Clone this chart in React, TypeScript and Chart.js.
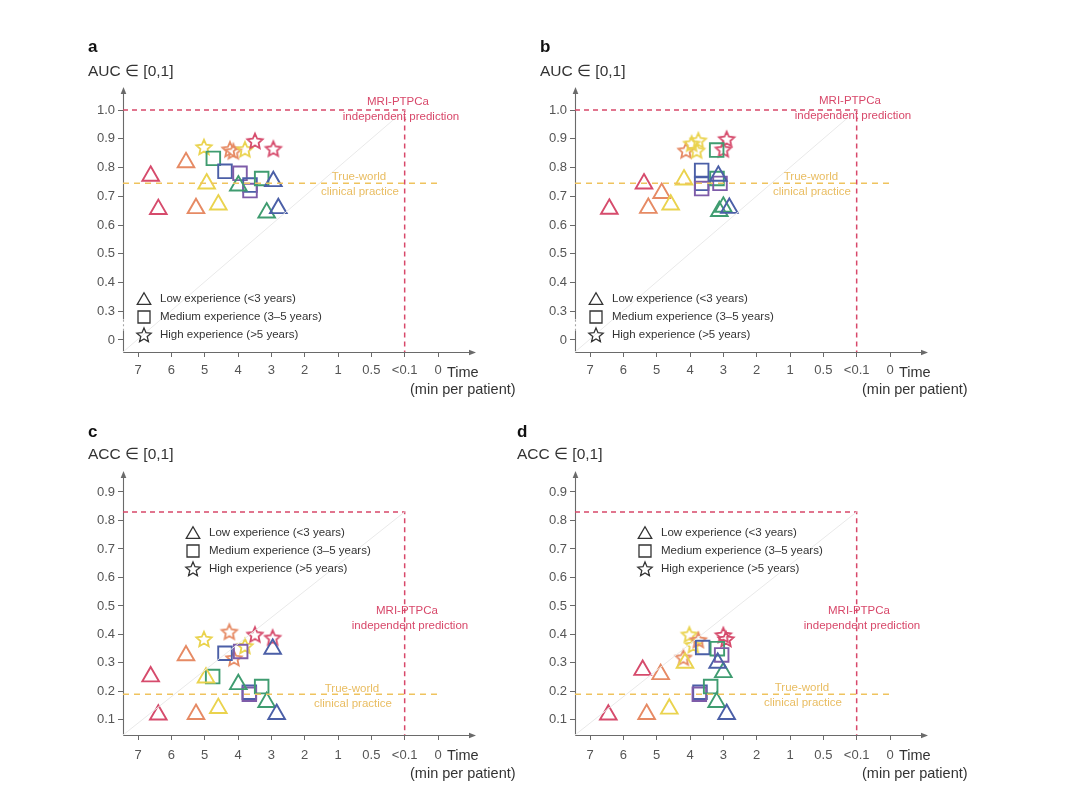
import React, { useEffect, useRef } from "react";
import { Chart, registerables } from "chart.js";

Chart.register(...registerables);

// ---------------- DATA ----------------
type Pt = { t: number; v: number; r: number }; // t: time position, v: metric, r: rater colour group

const xTickValues = [7, 6, 5, 4, 3, 2, 1, 0, -1, -2];
const xTickLabels = ["7", "6", "5", "4", "3", "2", "1", "0.5", "<0.1", "0"];
const aucTickValues = [0.2, 0.3, 0.4, 0.5, 0.6, 0.7, 0.8, 0.9, 1.0];
const aucTickLabels = ["0", "0.3", "0.4", "0.5", "0.6", "0.7", "0.8", "0.9", "1.0"];
const accTickValues = [0.1, 0.2, 0.3, 0.4, 0.5, 0.6, 0.7, 0.8, 0.9];
const accTickLabels = ["0.1", "0.2", "0.3", "0.4", "0.5", "0.6", "0.7", "0.8", "0.9"];
const legendLabels = ["Low experience (<3 years)", "Medium experience (3\u20135 years)", "High experience (>5 years)"];
const humanLevel = [0.745, 0.745, 0.19, 0.19];
const modelLevel = [1.0, 1.0, 0.83, 0.83];
const modelTime = -1; // "<0.1"
const humanLineEnd = -2; // "0"

const aTri: Pt[] = [
  { t: 6.62, v: 0.771, r: 0 }, { t: 6.39, v: 0.655, r: 0 },
  { t: 5.56, v: 0.818, r: 1 }, { t: 5.26, v: 0.658, r: 1 },
  { t: 4.94, v: 0.744, r: 2 }, { t: 4.59, v: 0.671, r: 2 },
  { t: 3.99, v: 0.737, r: 3 }, { t: 3.14, v: 0.643, r: 3 },
  { t: 2.94, v: 0.752, r: 4 }, { t: 2.79, v: 0.658, r: 4 },
];
const aSq: Pt[] = [
  { t: 4.74, v: 0.832, r: 3 }, { t: 4.39, v: 0.787, r: 4 },
  { t: 3.94, v: 0.78, r: 5 }, { t: 3.64, v: 0.739, r: 4 },
  { t: 3.64, v: 0.72, r: 5 }, { t: 3.29, v: 0.762, r: 3 },
];
const aStar: Pt[] = [
  { t: 5.02, v: 0.872, r: 2 }, { t: 4.24, v: 0.864, r: 1 },
  { t: 4.14, v: 0.857, r: 1 }, { t: 3.79, v: 0.864, r: 2 },
  { t: 3.49, v: 0.893, r: 0 }, { t: 2.94, v: 0.866, r: 0 },
];

const bTri: Pt[] = [
  { t: 6.42, v: 0.656, r: 0 }, { t: 5.38, v: 0.744, r: 0 },
  { t: 4.85, v: 0.711, r: 1 }, { t: 5.25, v: 0.659, r: 1 },
  { t: 4.58, v: 0.671, r: 2 }, { t: 4.18, v: 0.758, r: 2 },
  { t: 3.12, v: 0.648, r: 3 }, { t: 3.0, v: 0.663, r: 3 },
  { t: 3.15, v: 0.771, r: 4 }, { t: 2.82, v: 0.659, r: 4 },
];
const bSq: Pt[] = [
  { t: 3.65, v: 0.79, r: 4 }, { t: 3.65, v: 0.745, r: 4 },
  { t: 3.65, v: 0.727, r: 5 }, { t: 3.19, v: 0.762, r: 3 },
  { t: 3.1, v: 0.745, r: 5 }, { t: 3.2, v: 0.861, r: 3 },
];
const bStar: Pt[] = [
  { t: 4.12, v: 0.86, r: 1 }, { t: 3.95, v: 0.884, r: 2 },
  { t: 3.75, v: 0.895, r: 2 }, { t: 3.8, v: 0.86, r: 2 },
  { t: 2.9, v: 0.9, r: 0 }, { t: 3.0, v: 0.864, r: 0 },
];

const cTri: Pt[] = [
  { t: 6.62, v: 0.252, r: 0 }, { t: 6.39, v: 0.118, r: 0 },
  { t: 5.56, v: 0.326, r: 1 }, { t: 5.26, v: 0.12, r: 1 },
  { t: 4.96, v: 0.248, r: 2 }, { t: 4.59, v: 0.141, r: 2 },
  { t: 3.99, v: 0.225, r: 3 }, { t: 3.14, v: 0.162, r: 3 },
  { t: 2.96, v: 0.349, r: 4 }, { t: 2.84, v: 0.12, r: 4 },
];
const cSq: Pt[] = [
  { t: 4.76, v: 0.252, r: 3 }, { t: 4.39, v: 0.334, r: 4 },
  { t: 3.92, v: 0.34, r: 5 }, { t: 3.66, v: 0.197, r: 4 },
  { t: 3.66, v: 0.19, r: 5 }, { t: 3.29, v: 0.217, r: 3 },
];
const cStar: Pt[] = [
  { t: 5.02, v: 0.384, r: 2 }, { t: 4.26, v: 0.41, r: 1 },
  { t: 4.12, v: 0.317, r: 1 }, { t: 3.79, v: 0.36, r: 2 },
  { t: 3.49, v: 0.4, r: 0 }, { t: 2.96, v: 0.389, r: 0 },
];

const dTri: Pt[] = [
  { t: 6.45, v: 0.118, r: 0 }, { t: 5.42, v: 0.275, r: 0 },
  { t: 4.88, v: 0.26, r: 1 }, { t: 5.3, v: 0.12, r: 1 },
  { t: 4.62, v: 0.139, r: 2 }, { t: 4.15, v: 0.3, r: 2 },
  { t: 3.0, v: 0.267, r: 3 }, { t: 3.2, v: 0.162, r: 3 },
  { t: 3.17, v: 0.3, r: 4 }, { t: 2.9, v: 0.12, r: 4 },
];
const dSq: Pt[] = [
  { t: 3.62, v: 0.354, r: 4 }, { t: 3.7, v: 0.197, r: 4 },
  { t: 3.72, v: 0.19, r: 5 }, { t: 3.38, v: 0.217, r: 3 },
  { t: 3.18, v: 0.35, r: 3 }, { t: 3.05, v: 0.328, r: 5 },
];
const dStar: Pt[] = [
  { t: 4.02, v: 0.4, r: 2 }, { t: 3.9, v: 0.363, r: 2 },
  { t: 4.2, v: 0.319, r: 1 }, { t: 3.75, v: 0.381, r: 1 },
  { t: 3.0, v: 0.398, r: 0 }, { t: 2.92, v: 0.384, r: 0 },
];

// ---------------- STYLE ----------------
const FONT = '"Liberation Sans", Arial, Helvetica, sans-serif';
const palette = ["#d64b6c", "#e68a64", "#ead34e", "#3f9c70", "#4b5fa7", "#7e5ca9"];
const RED = "#d8486a";
const GOLD = "#efc35e";
const GOLD_TEXT = "#e9bd62";
const AXIS = "#6a6a6a";
const W = 540;

interface Panel {
  key: string;
  left: number;
  top: number;
  h: number;
  letterX: number;
  letterY: number;
  title: string;
  titleY: number;
  padTop: number;
  chartBottom: number;
  yMin: number;
  yMax: number;
  yTicks: number[];
  yLabels: string[];
  axisBreak: [number, number] | null;
  tickPad: number;
  timeY: number;
  minY: number;
  legendX: number;
  legendY: number;
  mriX: number;
  mriY: number;
  twX: number;
  twY: number;
  idx: number;
  tri: Pt[];
  sq: Pt[];
  star: Pt[];
}

const X_MIN = -3.11;
const X_MAX = 7.45;

const panels: Panel[] = [
  {
    key: "a", left: 0, top: 0, h: 400, letterX: 88, letterY: 47, title: "AUC \u2208 [0,1]", titleY: 72,
    padTop: 88, chartBottom: 352, yMin: 0.158, yMax: 1.077, yTicks: aucTickValues, yLabels: aucTickLabels,
    axisBreak: [0.232, 0.272], tickPad: 6, timeY: 373, minY: 390, legendX: 144, legendY: 299,
    mriX: 401, mriY: 102, twX: 359, twY: 177, idx: 0, tri: aTri, sq: aSq, star: aStar,
  },
  {
    key: "b", left: 452, top: 0, h: 400, letterX: 88, letterY: 47, title: "AUC \u2208 [0,1]", titleY: 72,
    padTop: 88, chartBottom: 352, yMin: 0.158, yMax: 1.077, yTicks: aucTickValues, yLabels: aucTickLabels,
    axisBreak: [0.232, 0.272], tickPad: 6, timeY: 373, minY: 390, legendX: 144, legendY: 299,
    mriX: 401, mriY: 101, twX: 359, twY: 177, idx: 1, tri: bTri, sq: bSq, star: bStar,
  },
  {
    key: "c", left: 0, top: 395, h: 395, letterX: 88, letterY: 37, title: "ACC \u2208 [0,1]", titleY: 60,
    padTop: 77, chartBottom: 340, yMin: 0.047, yMax: 0.97, yTicks: accTickValues, yLabels: accTickLabels,
    axisBreak: null, tickPad: 8, timeY: 361, minY: 379, legendX: 193, legendY: 138,
    mriX: 410, mriY: 216, twX: 352, twY: 294, idx: 2, tri: cTri, sq: cSq, star: cStar,
  },
  {
    key: "d", left: 452, top: 395, h: 395, letterX: 65, letterY: 37, title: "ACC \u2208 [0,1]", titleY: 60,
    padTop: 77, chartBottom: 340, yMin: 0.047, yMax: 0.97, yTicks: accTickValues, yLabels: accTickLabels,
    axisBreak: null, tickPad: 8, timeY: 361, minY: 379, legendX: 193, legendY: 138,
    mriX: 410, mriY: 216, twX: 350, twY: 293, idx: 3, tri: dTri, sq: dSq, star: dStar,
  },
];

// ---------------- HELPERS ----------------
function traceStar(g: CanvasRenderingContext2D, cx: number, cy: number, R: number, r: number) {
  g.beginPath();
  for (let i = 0; i < 10; i++) {
    const a = -Math.PI / 2 + (i * Math.PI) / 5;
    const rad = i % 2 === 0 ? R : r;
    const x = cx + rad * Math.cos(a);
    const y = cy + rad * Math.sin(a);
    if (i === 0) g.moveTo(x, y);
    else g.lineTo(x, y);
  }
  g.closePath();
}

function starCanvas(color: string): HTMLCanvasElement {
  const R = 8;
  const s = 22;
  const c = document.createElement("canvas");
  c.width = s;
  c.height = s;
  const g = c.getContext("2d")!;
  g.strokeStyle = color;
  g.lineWidth = 1.8;
  g.lineJoin = "miter";
  traceStar(g, s / 2, s / 2 + 0.8, R, R * 0.47);
  g.stroke();
  return c;
}

function labelFor(values: number[], labels: string[], v: number): string {
  const i = values.findIndex((x) => Math.abs(x - v) < 1e-6);
  return i >= 0 ? labels[i] : "";
}

function decorPlugin(p: Panel) {
  return {
    id: "decor" + p.key,
    beforeDatasetsDraw(chart: any) {
      const { ctx, chartArea } = chart;
      const { left, right, top, bottom } = chartArea;
      const ys = chart.scales.y;
      ctx.save();
      ctx.strokeStyle = AXIS;
      ctx.fillStyle = AXIS;
      ctx.lineWidth = 1.1;
      const L = Math.round(left) + 0.5;
      const B = Math.round(bottom) + 0.5;
      // x axis
      ctx.beginPath();
      ctx.moveTo(L, B);
      ctx.lineTo(right - 4, B);
      ctx.stroke();
      ctx.beginPath();
      ctx.moveTo(right + 1, B);
      ctx.lineTo(right - 6, B - 2.8);
      ctx.lineTo(right - 6, B + 2.8);
      ctx.closePath();
      ctx.fill();
      // y axis
      if (p.axisBreak) {
        const b1 = ys.getPixelForValue(p.axisBreak[0]);
        const b2 = ys.getPixelForValue(p.axisBreak[1]);
        ctx.beginPath();
        ctx.moveTo(L, B);
        ctx.lineTo(L, b1);
        ctx.moveTo(L, b2);
        ctx.lineTo(L, top + 4);
        ctx.stroke();
        ctx.save();
        ctx.setLineDash([2, 2.5]);
        ctx.globalAlpha = 0.6;
        ctx.beginPath();
        ctx.moveTo(L, b1);
        ctx.lineTo(L, b2);
        ctx.stroke();
        ctx.restore();
      } else {
        ctx.beginPath();
        ctx.moveTo(L, B);
        ctx.lineTo(L, top + 4);
        ctx.stroke();
      }
      ctx.beginPath();
      ctx.moveTo(L, top - 1);
      ctx.lineTo(L - 2.8, top + 6);
      ctx.lineTo(L + 2.8, top + 6);
      ctx.closePath();
      ctx.fill();
      ctx.restore();
    },
    afterDraw(chart: any) {
      const { ctx } = chart;
      ctx.save();
      // panel letter
      ctx.fillStyle = "#111";
      ctx.font = `bold 17px ${FONT}`;
      ctx.textAlign = "left";
      ctx.textBaseline = "middle";
      ctx.fillText(p.key, p.letterX, p.letterY);
      // y title
      ctx.fillStyle = "#333";
      ctx.font = `15.5px ${FONT}`;
      ctx.fillText(p.title, p.letterX, p.titleY);
      // x title
      ctx.font = `14.5px ${FONT}`;
      ctx.fillText("Time", 447, p.timeY);
      ctx.fillText("(min per patient)", 410, p.minY);
      // annotations
      ctx.textAlign = "center";
      ctx.font = `11.5px ${FONT}`;
      ctx.fillStyle = RED;
      ctx.fillText("MRI-PTPCa", p.mriX - 3, p.mriY);
      ctx.fillText("independent prediction", p.mriX, p.mriY + 15);
      ctx.fillStyle = GOLD_TEXT;
      ctx.fillText("True-world", p.twX, p.twY);
      ctx.fillText("clinical practice", p.twX + 1, p.twY + 14.5);
      // legend
      ctx.textAlign = "left";
      ctx.fillStyle = "#333";
      ctx.strokeStyle = "#333";
      ctx.lineWidth = 1.3;
      ctx.font = `11.5px ${FONT}`;
      const lx = p.legendX;
      for (let i = 0; i < 3; i++) {
        const ly = p.legendY + i * 18;
        ctx.beginPath();
        if (i === 0) {
          const r = 7.8;
          ctx.moveTo(lx, ly - r + 1.5);
          ctx.lineTo(lx + r * 0.866, ly + r * 0.5 + 1.5);
          ctx.lineTo(lx - r * 0.866, ly + r * 0.5 + 1.5);
          ctx.closePath();
        } else if (i === 1) {
          ctx.rect(lx - 6, ly - 6, 12, 12);
        } else {
          traceStar(ctx, lx, ly + 0.5, 7.5, 3.4);
        }
        ctx.stroke();
        ctx.fillText(legendLabels[i], lx + 16, ly);
      }
      ctx.restore();
    },
  };
}

function makeChart(canvas: HTMLCanvasElement, p: Panel) {
  const stars = palette.map((c) => starCanvas(c));
  const h = humanLevel[p.idx];
  const m = modelLevel[p.idx];
  const toXY = (arr: Pt[]) => arr.map((d) => ({ x: d.t, y: d.v }));
  const colors = (arr: Pt[]) => arr.map((d) => palette[d.r]);
  const config: any = {
    type: "scatter",
    data: {
      datasets: [
        {
          data: [{ x: X_MAX, y: p.yMin }, { x: modelTime, y: m }],
          showLine: true,
          borderColor: "#e9e9e9",
          borderWidth: 1,
          pointRadius: 0,
        },
        {
          data: [{ x: X_MAX, y: h }, { x: humanLineEnd, y: h }],
          showLine: true,
          borderColor: GOLD,
          borderWidth: 1.5,
          borderDash: [6, 5],
          pointRadius: 0,
        },
        {
          data: [{ x: X_MAX, y: m }, { x: modelTime, y: m }, { x: modelTime, y: p.yMin }],
          showLine: true,
          borderColor: RED,
          borderWidth: 1.5,
          borderDash: [5, 4],
          pointRadius: 0,
        },
        {
          data: toXY(p.tri),
          pointStyle: "triangle",
          pointRadius: 9.6,
          pointBorderWidth: 1.9,
          pointBorderColor: colors(p.tri),
          pointBackgroundColor: "rgba(0,0,0,0)",
        },
        {
          data: toXY(p.sq),
          pointStyle: "rect",
          pointRadius: 9.6,
          pointBorderWidth: 1.9,
          pointBorderColor: colors(p.sq),
          pointBackgroundColor: "rgba(0,0,0,0)",
        },
        {
          data: toXY(p.star),
          pointStyle: p.star.map((d) => stars[d.r]),
          pointRadius: 8,
          pointBorderColor: colors(p.star),
          pointBackgroundColor: "rgba(0,0,0,0)",
        },
      ],
    },
    options: {
      responsive: false,
      animation: false,
      events: [],
      devicePixelRatio: 1,
      layout: { padding: { top: p.padTop, right: W - 475, left: 0, bottom: 0 } },
      plugins: { legend: { display: false }, tooltip: { enabled: false } },
      scales: {
        x: {
          type: "linear",
          reverse: true,
          min: X_MIN,
          max: X_MAX,
          afterBuildTicks: (s: any) => {
            s.ticks = xTickValues.map((v) => ({ value: v }));
          },
          afterFit: (s: any) => {
            s.height = p.h - p.chartBottom;
          },
          ticks: {
            autoSkip: false,
            maxRotation: 0,
            padding: p.tickPad,
            color: "#555",
            font: { family: FONT, size: 13 },
            callback: (v: number) => labelFor(xTickValues, xTickLabels, v),
          },
          grid: { display: true, drawOnChartArea: false, drawTicks: true, tickLength: 5, color: AXIS },
          border: { display: false },
        },
        y: {
          type: "linear",
          min: p.yMin,
          max: p.yMax,
          afterBuildTicks: (s: any) => {
            s.ticks = p.yTicks.map((v) => ({ value: v }));
          },
          afterFit: (s: any) => {
            s.width = 123;
          },
          ticks: {
            autoSkip: false,
            padding: 3,
            color: "#555",
            font: { family: FONT, size: 13 },
            callback: (v: number) => labelFor(p.yTicks, p.yLabels, v),
          },
          grid: { display: true, drawOnChartArea: false, drawTicks: true, tickLength: 5, color: AXIS },
          border: { display: false },
        },
      },
    },
    plugins: [decorPlugin(p)],
  };
  return new Chart(canvas, config);
}

function PanelView({ p }: { p: Panel }) {
  const ref = useRef<HTMLCanvasElement>(null);
  useEffect(() => {
    const chart = makeChart(ref.current!, p);
    return () => chart.destroy();
  }, [p]);
  return (
    <canvas
      ref={ref}
      width={W}
      height={p.h}
      style={{ position: "absolute", left: p.left, top: p.top, width: W, height: p.h }}
    />
  );
}

export default function App() {
  return (
    <div style={{ position: "absolute", left: 0, top: 0, width: 1080, height: 790, background: "#fff" }}>
      {panels.map((p) => (
        <PanelView key={p.key} p={p} />
      ))}
    </div>
  );
}
